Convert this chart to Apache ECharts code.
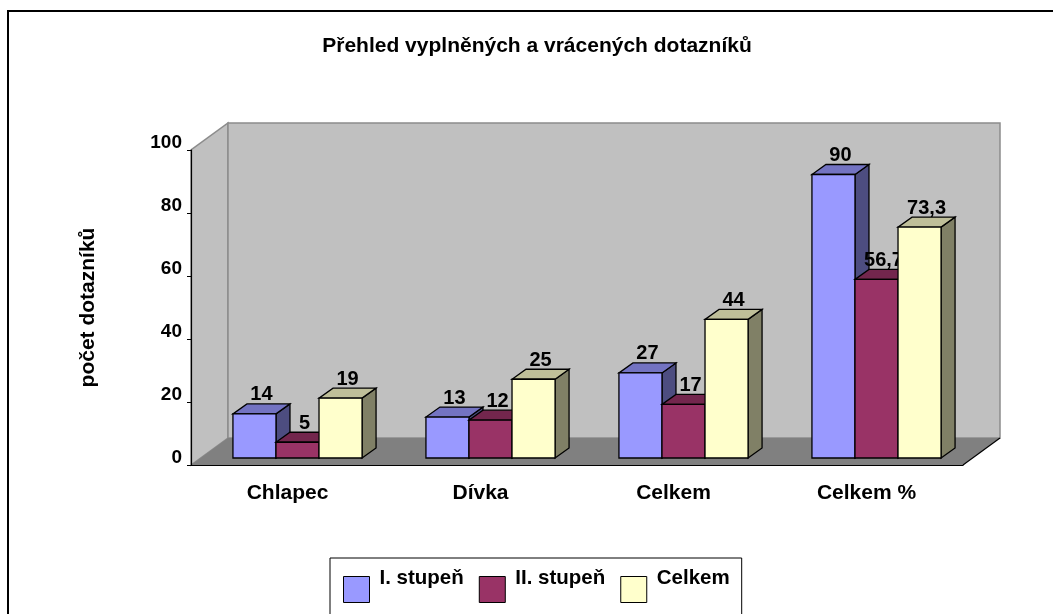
<!DOCTYPE html>
<html>
<head>
<meta charset="utf-8">
<title>Přehled vyplněných a vrácených dotazníků</title>
<script src="https://cdn.jsdelivr.net/npm/echarts@6/dist/echarts.min.js"></script>
<style>
  html, body { margin: 0; padding: 0; background: #fff; }
  #chart { width: 1053px; height: 614px; }
</style>
</head>
<body>
<div id="chart"></div>
<script>
const categories = ['Chlapec', 'Dívka', 'Celkem', 'Celkem %']
const seriesNames = ['I. stupeň', 'II. stupeň', 'Celkem']
const stupen1 = [14, 13, 27, 90]
const stupen2 = [5, 12, 17, 56.7]
const celkem = [19, 25, 44, 73.3]
const yMin = 0
const yMax = 100
const yInterval = 20

// front / top / side colours of each series (excel 3d look)
const palette = [
  { front: '#9999FF', top: '#7373C2', side: '#4D4D80' },
  { front: '#993366', top: '#73264D', side: '#4D1A33' },
  { front: '#FFFFCC', top: '#BFBF99', side: '#808066' }
]

const font = "'Liberation Sans', Arial, sans-serif"
const wallDepth = [37, -27] // back wall offset
const barShift = [10, -7] // bars sit a bit behind the front plane
const barDepth = [14, -10]

function fmt(v) {
  return String(v).replace('.', ',')
}

function renderWalls(params, api) {
  const band = api.size([1, 0])[0]
  const p0 = api.coord([0, yMin])
  const pTop = api.coord([0, yMax])
  const pLast = api.coord([categories.length - 1, yMin])
  const xl = p0[0] - band / 2
  const xr = pLast[0] + band / 2
  const yb = p0[1]
  const yt = pTop[1]
  const dx = wallDepth[0]
  const dy = wallDepth[1]
  return {
    type: 'group',
    children: [
      {
        type: 'polygon',
        shape: { points: [[xl, yb], [xl + dx, yb + dy], [xl + dx, yt + dy], [xl, yt]] },
        style: { fill: '#C0C0C0', stroke: '#8C8C8C', lineWidth: 1.5 }
      },
      {
        type: 'rect',
        shape: { x: xl + dx, y: yt + dy, width: xr - xl, height: yb - yt },
        style: { fill: '#C0C0C0', stroke: '#8C8C8C', lineWidth: 1.5 }
      },
      {
        type: 'polygon',
        shape: { points: [[xl, yb], [xr, yb], [xr + dx, yb + dy], [xl + dx, yb + dy]] },
        style: { fill: '#808080' }
      },
      {
        type: 'line',
        shape: { x1: xr, y1: yb, x2: xr + dx, y2: yb + dy },
        style: { stroke: '#000', lineWidth: 1.2 }
      }
    ]
  }
}

function makeBarRenderer(idx) {
  const c = palette[idx]
  return function (params, api) {
    const i = api.value(0)
    const v = api.value(1)
    const band = api.size([1, 0])[0]
    const base = api.coord([i, 0])
    const top = api.coord([i, v])
    const bw = band * 0.223
    const x0 = base[0] + barShift[0] - 1.5 * bw + idx * bw
    const x1 = x0 + bw
    const yb = base[1] + barShift[1]
    const yt = top[1] + barShift[1]
    const dx = barDepth[0]
    const dy = barDepth[1]
    const line = { stroke: '#000', lineWidth: 1.3 }
    return {
      type: 'group',
      children: [
        {
          type: 'polygon',
          shape: { points: [[x1, yb], [x1 + dx, yb + dy], [x1 + dx, yt + dy], [x1, yt]] },
          style: Object.assign({ fill: c.side }, line)
        },
        {
          type: 'polygon',
          shape: { points: [[x0, yt], [x1, yt], [x1 + dx, yt + dy], [x0 + dx, yt + dy]] },
          style: Object.assign({ fill: c.top }, line)
        },
        {
          type: 'rect',
          shape: { x: x0, y: yt, width: bw, height: yb - yt },
          style: Object.assign({ fill: c.front }, line)
        },
        {
          type: 'text',
          style: {
            text: fmt(v),
            x: (x0 + x1) / 2 + dx / 2,
            y: yt + dy - 9,
            align: 'center',
            verticalAlign: 'middle',
            font: 'bold 20px ' + font,
            fill: '#000'
          }
        }
      ]
    }
  }
}

const seriesData = [stupen1, stupen2, celkem]

const chart = echarts.init(document.getElementById('chart'))

chart.setOption({
  animation: false,
  backgroundColor: '#fff',
  textStyle: { fontFamily: font },
  title: {
    text: 'Přehled vyplněných a vrácených dotazníků',
    left: 532,
    top: 31,
    textAlign: 'center',
    textStyle: { fontSize: 21, fontWeight: 'bold', color: '#000', fontFamily: font }
  },
  graphic: [
    {
      type: 'rect',
      shape: { x: 8, y: 11, width: 1100, height: 700 },
      style: { fill: 'none', stroke: '#000', lineWidth: 2 },
      z: 100
    }
  ],
  legend: {
    data: seriesNames,
    left: 330,
    top: 558,
    icon: 'rect',
    itemWidth: 26,
    itemHeight: 26,
    itemGap: 15,
    padding: [10, 12, 10, 13],
    borderColor: '#000',
    borderWidth: 1,
    backgroundColor: '#fff',
    itemStyle: { borderColor: '#000', borderWidth: 1 },
    formatter: name => '{a|' + name + '}\n{b| }',
    textStyle: {
      color: '#000',
      fontFamily: font,
      rich: {
        a: { fontSize: 20.5, fontWeight: 'bold', color: '#000', fontFamily: font, lineHeight: 22, padding: [0, 0, 0, 5] },
        b: { fontSize: 10, lineHeight: 22 }
      }
    }
  },
  grid: {
    left: 191,
    right: 90,
    top: 150,
    bottom: 149
  },
  xAxis: {
    type: 'category',
    data: categories,
    z: 10,
    axisLine: { lineStyle: { color: '#000', width: 1.2 } },
    axisTick: { length: 5, lineStyle: { color: '#000' } },
    axisLabel: {
      margin: 18,
      fontSize: 21,
      fontWeight: 'bold',
      color: '#000',
      fontFamily: font
    },
    splitLine: { show: false }
  },
  yAxis: {
    type: 'value',
    min: yMin,
    max: yMax,
    interval: yInterval,
    z: 10,
    name: 'počet dotazníků',
    nameLocation: 'middle',
    nameRotate: 90,
    nameGap: 92,
    nameTextStyle: { fontSize: 21, fontWeight: 'bold', color: '#000', fontFamily: font },
    axisLine: { show: true, lineStyle: { color: '#000', width: 1.2 } },
    axisTick: { show: true, length: 4, lineStyle: { color: '#000' } },
    axisLabel: {
      margin: 9,
      fontSize: 19,
      fontWeight: 'bold',
      color: '#000',
      fontFamily: font,
      verticalAlign: 'bottom',
      padding: [0, 0, -2, 0]
    },
    splitLine: { show: false }
  },
  series: [
    {
      type: 'custom',
      name: 'walls',
      z: 0,
      silent: true,
      renderItem: renderWalls,
      data: [[0, 0]],
      encode: { x: 0, y: 1 }
    }
  ].concat(seriesNames.map((name, s) => ({
    type: 'custom',
    name: name,
    z: 2,
    itemStyle: { color: palette[s].front, borderColor: '#000', borderWidth: 1 },
    renderItem: makeBarRenderer(s),
    data: categories.map((c, i) => [i, seriesData[s][i]]),
    encode: { x: 0, y: 1 }
  })))
})
</script>
</body>
</html>
